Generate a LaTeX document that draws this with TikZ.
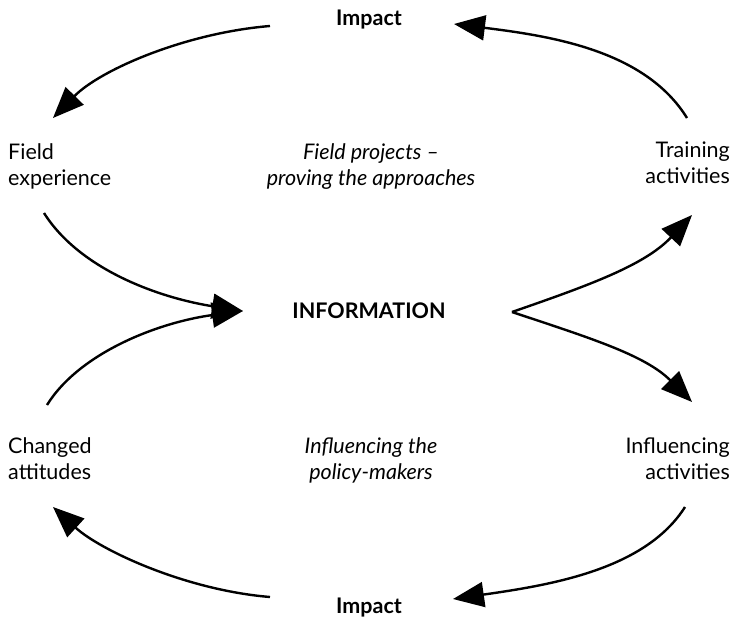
\documentclass[tikz,border=0pt]{standalone}
\usepackage{fontspec}
\setmainfont{Lato}
\usetikzlibrary{arrows.meta}
\begin{document}
\begin{tikzpicture}[x=1pt,y=-1pt,
  lbl/.style={inner sep=0pt, font=\fontsize{21.5}{26}\selectfont},
  boldlbl/.style={inner sep=0pt, font=\fontsize{21.5}{26}\selectfont\bfseries},
  itlbl/.style={inner sep=0pt, font=\fontsize{21.5}{26}\selectfont\itshape, align=center},
  flow/.style={line width=2.4pt, -{Triangle[length=31pt,width=25pt]}}]
\useasboundingbox (0,0) rectangle (744,618);
% texts
\node[boldlbl, anchor=base] (impT) at (369,26) {Impact};
\node[boldlbl, anchor=base] (info) at (369,318) {INFORMATION};
\node[boldlbl, anchor=base] (impB) at (369,613) {Impact};
\node[lbl, anchor=base west] (fe1) at (8,159) {Field};
\node[lbl, anchor=base west] (fe2) at (8,185) {experience};
\node[lbl, anchor=base west] (ca1) at (8,453) {Changed};
\node[lbl, anchor=base west] (ca2) at (8,479) {attitudes};
\node[lbl, anchor=base east] (ta1) at (730,157) {Training};
\node[lbl, anchor=base east] (ta2) at (730,183) {activities};
\node[lbl, anchor=base east] (ia1) at (730,453) {Influencing};
\node[lbl, anchor=base east] (ia2) at (730,479) {activities};
\node[itlbl, anchor=base] (fp1) at (371,159) {Field projects –};
\node[itlbl, anchor=base] (fp2) at (371,185) {proving the approaches};
\node[itlbl, anchor=base] (ip1) at (371,453) {Influencing the};
\node[itlbl, anchor=base] (ip2) at (371,479) {policy-makers};
% connector ends
\coordinate (taTop) at (687,118);
\coordinate (impTR) at (454,24);
\coordinate (impTL) at (270,26);
\coordinate (feTop) at (53,118);
\coordinate (feBot) at (44,213);
\coordinate (infoL) at (243,311);
\coordinate (caTop) at (47,405);
\coordinate (infoR) at (512,312);
\coordinate (taBot) at (692,215);
\coordinate (iaTop) at (692,402);
\coordinate (iaBot) at (685,507);
\coordinate (impBR) at (453,599);
\coordinate (impBL) at (270,597);
\coordinate (caBot) at (53,507);
% connectors
\draw[flow] (taTop) .. controls (645,50) and (550,36) .. (impTR);
\draw[flow] (impTL) .. controls (185,33) and (100,70) .. (feTop);
\draw[flow] (feBot) .. controls (80,270) and (160,298) .. (infoL);
\draw[flow] (caTop) .. controls (80,352) and (160,322) .. (infoL);
\draw[flow] (infoR) .. controls (590,285) and (645,265) .. (taBot);
\draw[flow] (infoR) .. controls (590,338) and (645,355) .. (iaTop);
\draw[flow] (iaBot) .. controls (645,570) and (550,585) .. (impBR);
\draw[flow] (impBL) .. controls (185,590) and (100,550) .. (caBot);
\end{tikzpicture}
\end{document}
